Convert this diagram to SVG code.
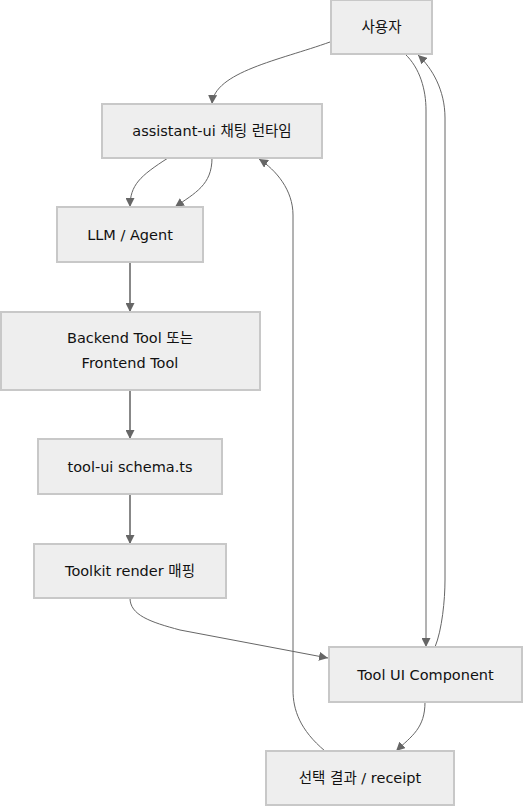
<svg xmlns="http://www.w3.org/2000/svg" width="525" height="806" viewBox="0 0 525 806">
<defs>
<style>
.node rect{fill:#eeeeee;stroke:#c8c8c8;stroke-width:2}
.node text{font-family:"DejaVu Sans","Noto Sans CJK KR",sans-serif;font-size:14.5px;fill:#111;text-anchor:middle;dominant-baseline:central}
.edges path{fill:none;stroke:#666;stroke-width:1}
.edges path.thick{stroke:#888;stroke-width:2}
</style>
<marker id="arr" viewBox="0 0 10 10" refX="10" refY="5" markerWidth="9" markerHeight="9" markerUnits="userSpaceOnUse" orient="auto">
<path d="M0,0 L10,5 L0,10 z" fill="#666"/>
</marker>
</defs>
<rect width="525" height="806" fill="#fff"/>
<g class="edges">
<path d="M330,42 C280,60 214,72 212,104" marker-end="url(#arr)"/>
<path d="M168,158 C140,176 130,185 130,207" marker-end="url(#arr)"/>
<path d="M212,158 C212,185 195,193 175,207" marker-end="url(#arr)"/>
<path d="M405,54 C420,68 426,90 426,110 L426,647" marker-end="url(#arr)"/>
<path d="M435,647 C442,630 445,600 445,580 L445,118 C445,90 432,68 418,55" marker-end="url(#arr)"/>
<path d="M325,751 C300,730 293,710 293,690 L293,215 C293,190 276,170 259,159" marker-end="url(#arr)"/>
<path class="thick" d="M130,262 L130,312" marker-end="url(#arr)"/>
<path class="thick" d="M130,390 L130,439" marker-end="url(#arr)"/>
<path class="thick" d="M130,494 L130,544" marker-end="url(#arr)"/>
<path d="M130,598 C130,615 150,622 180,630 L328,658" marker-end="url(#arr)"/>
<path d="M425,702 C425,728 412,736 396,751" marker-end="url(#arr)"/>
</g>
<g id="user" class="node"><rect x="331" y="0" width="101" height="54"/><text x="381.5" y="27">사용자</text></g>
<g id="runtime" class="node"><rect x="102" y="104" width="220" height="54"/><text x="212" y="131">assistant-ui 채팅 런타임</text></g>
<g id="llm" class="node"><rect x="57" y="207" width="146" height="55"/><text x="130" y="234.5">LLM / Agent</text></g>
<g id="tool" class="node"><rect x="1" y="312" width="259" height="78"/><text x="130" y="338">Backend Tool 또는</text><text x="130" y="362.5">Frontend Tool</text></g>
<g id="schema" class="node"><rect x="38" y="439" width="184" height="55"/><text x="130" y="466.5">tool-ui schema.ts</text></g>
<g id="toolkit" class="node"><rect x="34" y="544" width="192" height="54"/><text x="130" y="571">Toolkit render 매핑</text></g>
<g id="component" class="node"><rect x="329" y="647" width="193" height="55"/><text x="425.5" y="674.5">Tool UI Component</text></g>
<g id="receipt" class="node"><rect x="266" y="751" width="188" height="54"/><text x="360" y="778">선택 결과 / receipt</text></g>
</svg>
